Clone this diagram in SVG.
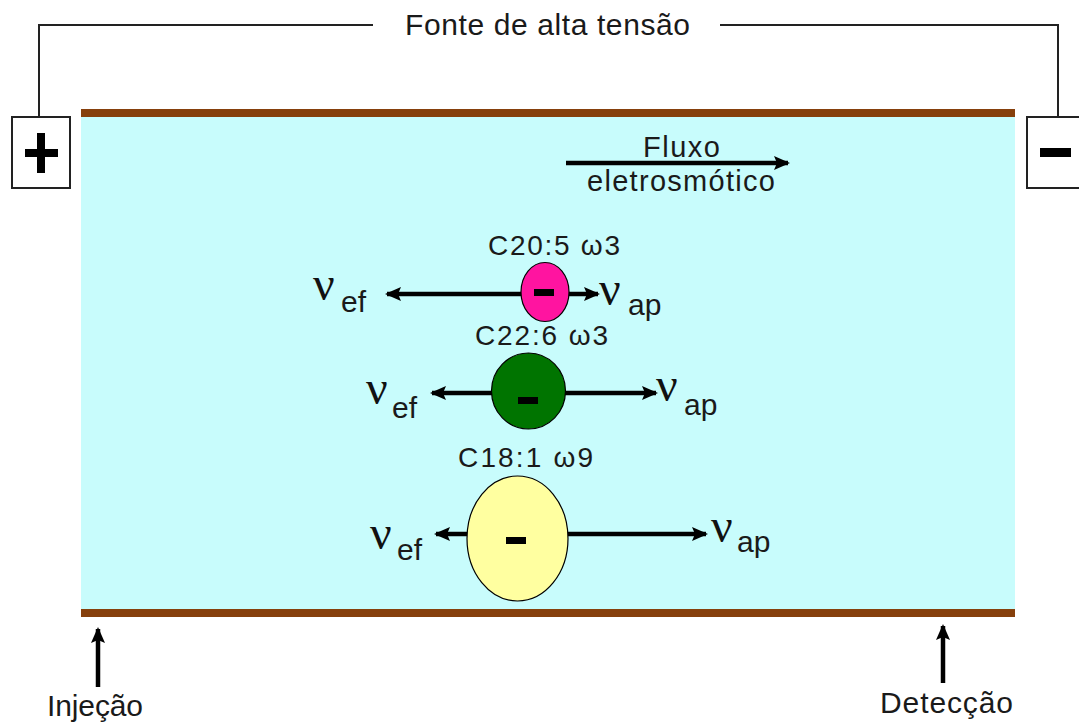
<svg xmlns="http://www.w3.org/2000/svg" width="1079" height="724" viewBox="0 0 1079 724">
<style>
.t{font-family:"Liberation Sans",Arial,sans-serif;fill:#1a1a1a}
.nu{font-family:"Liberation Serif","Times New Roman",serif;fill:#111;font-size:48px}
.sub{font-family:"Liberation Sans",Arial,sans-serif;fill:#1a1a1a;font-size:30px}
.wire{fill:none;stroke:#222;stroke-width:2}
.arr{stroke:#000;stroke-width:4.5;fill:none}
.part{stroke:#000;stroke-width:1.2}
.bar{fill:#000}
</style>
<defs>
<marker id="ah" viewBox="0 0 16 14" refX="14" refY="7" markerWidth="16" markerHeight="14" markerUnits="userSpaceOnUse" orient="auto-start-reverse">
<path d="M0,0 L16,7 L0,14 L3,7 Z" fill="#000"/>
</marker>
</defs>
<rect width="1079" height="724" fill="#fff"/>

<g id="capillary">
<rect x="81" y="116" width="934" height="493" fill="#c8fcfc"/>
<rect x="81" y="109" width="934" height="8" fill="#86400c"/>
<rect x="81" y="609" width="934" height="8" fill="#86400c"/>
</g>

<g id="fonte">
<text class="t" x="405" y="35" font-size="30" textLength="285">Fonte de alta tensão</text>
</g>

<g id="polo-positivo">
<rect x="12" y="117" width="58" height="71" fill="#fff" stroke="#222" stroke-width="2"/>
<rect x="25" y="149" width="33" height="8" class="bar"/>
<rect x="37" y="133" width="8" height="40" class="bar"/>
</g>

<g id="polo-negativo">
<rect x="1027" y="117" width="60" height="71" fill="#fff" stroke="#222" stroke-width="2"/>
<rect x="1040" y="148" width="31" height="9" class="bar"/>
</g>

<g id="fluxo">
<text class="t" x="643" y="157" font-size="29" textLength="77">Fluxo</text>
<text class="t" x="587" y="191" font-size="29" textLength="188">eletrosmótico</text>
</g>

<g id="c20">
<text class="t" x="488" y="255" font-size="28" textLength="132">C20:5 ω3</text>
<ellipse class="part" cx="545" cy="292" rx="24" ry="29.5" fill="#ff14a0"/>
<rect x="534" y="289" width="20" height="7" class="bar"/>
<text class="nu" x="313" y="300">ν</text><text class="sub" x="341" y="312">ef</text>
<text class="nu" x="599" y="305">ν</text><text class="sub" x="628" y="315">ap</text>
</g>

<g id="c22">
<text class="t" x="475" y="345" font-size="28" textLength="133">C22:6 ω3</text>
<ellipse class="part" cx="528.5" cy="391" rx="37" ry="38" fill="#007400"/>
<rect x="518" y="397" width="20" height="7" class="bar"/>
<text class="nu" x="366" y="404">ν</text><text class="sub" x="392" y="418">ef</text>
<text class="nu" x="656" y="401">ν</text><text class="sub" x="684" y="415">ap</text>
</g>

<g id="c18">
<text class="t" x="458" y="467" font-size="28" textLength="135">C18:1 ω9</text>
<ellipse class="part" cx="517.5" cy="538.5" rx="50.5" ry="62.5" fill="#ffffa0"/>
<rect x="506" y="537" width="20" height="7" class="bar"/>
<text class="nu" x="370" y="549">ν</text><text class="sub" x="397" y="560">ef</text>
<text class="nu" x="711" y="542">ν</text><text class="sub" x="737" y="552">ap</text>
</g>

<g id="injecao">
<text class="t" x="47" y="716" font-size="30" textLength="96">Injeção</text>
</g>
<g id="deteccao">
<text class="t" x="880" y="713" font-size="30" textLength="133">Detecção</text>
</g>

<g id="connectors">
<path class="wire" d="M373,25 H39 V117"/>
<path class="wire" d="M720,25 H1058 V117"/>
<line class="arr" x1="566" y1="163" x2="788" y2="163" marker-end="url(#ah)"/>
<line class="arr" x1="521" y1="294" x2="387" y2="294" marker-end="url(#ah)"/>
<line class="arr" x1="569" y1="294" x2="598" y2="294" marker-end="url(#ah)"/>
<line class="arr" x1="492" y1="393" x2="432" y2="393" marker-end="url(#ah)"/>
<line class="arr" x1="565" y1="393" x2="656" y2="393" marker-end="url(#ah)"/>
<line class="arr" x1="467" y1="534" x2="436" y2="534" marker-end="url(#ah)"/>
<line class="arr" x1="568" y1="534" x2="706" y2="534" marker-end="url(#ah)"/>
<line class="arr" x1="98" y1="687" x2="98" y2="629" marker-end="url(#ah)" stroke-width="5.5"/>
<line class="arr" x1="943" y1="683" x2="943" y2="626" marker-end="url(#ah)" stroke-width="5.5"/>
</g>
</svg>
